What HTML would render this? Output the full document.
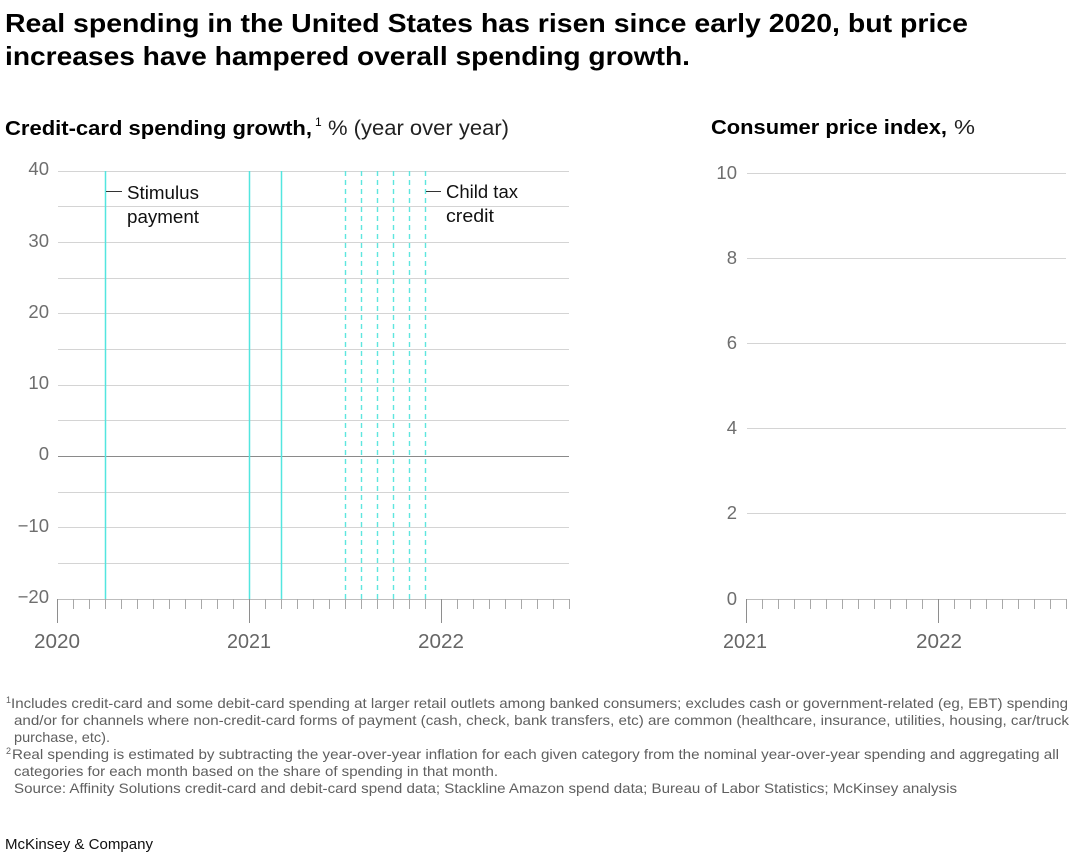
<!DOCTYPE html>
<html>
<head>
<meta charset="utf-8">
<style>
  html, body { margin: 0; padding: 0; background: #fff; }
  svg { display: block; }
  text { font-family: "Liberation Sans", Arial, sans-serif; }
</style>
</head>
<body>
<svg width="1080" height="862" viewBox="0 0 1080 862" xmlns="http://www.w3.org/2000/svg">
  <rect width="1080" height="862" fill="#fff"/>

  <!-- Title -->
  <text x="5" y="32" font-size="26" font-weight="bold" fill="#000" textLength="963" lengthAdjust="spacingAndGlyphs">Real spending in the United States has risen since early 2020, but price</text>
  <text x="5" y="65" font-size="26" font-weight="bold" fill="#000" textLength="685" lengthAdjust="spacingAndGlyphs">increases have hampered overall spending growth.</text>

  <!-- Subtitles -->
  <text x="5" y="135" font-size="20" font-weight="bold" fill="#000" textLength="307" lengthAdjust="spacingAndGlyphs">Credit-card spending growth,</text>
  <text x="315" y="126" font-size="12" fill="#000">1</text>
  <text x="328" y="135" font-size="21" fill="#222" textLength="181" lengthAdjust="spacingAndGlyphs">% (year over year)</text>

  <text x="711" y="134" font-size="20" font-weight="bold" fill="#000" textLength="236" lengthAdjust="spacingAndGlyphs">Consumer price index,</text>
  <text x="954" y="134" font-size="20" fill="#222" textLength="21" lengthAdjust="spacingAndGlyphs">%</text>

  <!-- LEFT CHART -->
  <g stroke="#d4d4d4" stroke-width="1" fill="none">
    <path d="M58 171.5H569 M58 206.5H569 M58 242.5H569 M58 278.5H569 M58 313.5H569 M58 349.5H569 M58 385.5H569 M58 420.5H569 M58 492.5H569 M58 527.5H569 M58 563.5H569"/>
  </g>
  <path d="M58 456.5H569" stroke="#8a8a8a" stroke-width="1"/>

  <!-- cyan event lines -->
  <g stroke="#52e6df" stroke-width="1.5" fill="none">
    <path d="M105.5 171V599 M249.5 171V599 M281.5 171V599"/>
  </g>
  <g stroke="#5ee6df" stroke-width="1.4" fill="none" stroke-dasharray="5,4">
    <path d="M345.5 171V599 M361.5 171V599 M377.5 171V599 M393.5 171V599 M409.5 171V599 M425.5 171V599"/>
  </g>

  <!-- annotations -->
  <path d="M106 191.5H122 M426 191.5H441" stroke="#333" stroke-width="1"/>
  <text x="127" y="199" font-size="18.5" fill="#111" textLength="72" lengthAdjust="spacingAndGlyphs">Stimulus</text>
  <text x="127" y="223" font-size="18.5" fill="#111" textLength="72" lengthAdjust="spacingAndGlyphs">payment</text>
  <text x="446" y="198" font-size="18.5" fill="#111" textLength="72" lengthAdjust="spacingAndGlyphs">Child tax</text>
  <text x="446" y="222" font-size="18.5" fill="#111" textLength="48" lengthAdjust="spacingAndGlyphs">credit</text>

  <!-- left axis -->
  <path d="M57 599.5H570" stroke="#bdbdbd" stroke-width="1"/>
  <path d="M73.5 599V609 M89.5 599V609 M105.5 599V609 M121.5 599V609 M137.5 599V609 M153.5 599V609 M169.5 599V609 M185.5 599V609 M201.5 599V609 M217.5 599V609 M233.5 599V609 M265.5 599V609 M281.5 599V609 M297.5 599V609 M313.5 599V609 M329.5 599V609 M345.5 599V609 M361.5 599V609 M377.5 599V609 M393.5 599V609 M409.5 599V609 M425.5 599V609 M457.5 599V609 M473.5 599V609 M489.5 599V609 M505.5 599V609 M521.5 599V609 M537.5 599V609 M553.5 599V609 M569.5 599V609" stroke="#a8a8a8" stroke-width="1"/>
  <path d="M57.5 599V623 M249.5 599V623 M441.5 599V623" stroke="#8e8e8e" stroke-width="1"/>

  <!-- left y labels -->
  <g font-size="18.5" fill="#6e6e6e" text-anchor="end">
    <text x="49" y="175">40</text>
    <text x="49" y="247">30</text>
    <text x="49" y="318">20</text>
    <text x="49" y="389">10</text>
    <text x="49" y="460">0</text>
    <text x="49" y="532">−10</text>
    <text x="49" y="603">−20</text>
  </g>
  <!-- left x labels -->
  <g font-size="20" fill="#666" text-anchor="middle">
    <text x="57" y="648" textLength="46" lengthAdjust="spacingAndGlyphs">2020</text>
    <text x="249" y="648" textLength="44" lengthAdjust="spacingAndGlyphs">2021</text>
    <text x="441" y="648" textLength="46" lengthAdjust="spacingAndGlyphs">2022</text>
  </g>

  <!-- RIGHT CHART -->
  <g stroke="#d4d4d4" stroke-width="1" fill="none">
    <path d="M747 173.5H1066 M747 258.5H1066 M747 343.5H1066 M747 428.5H1066 M747 513.5H1066"/>
  </g>
  <path d="M746 599.5H1067" stroke="#bdbdbd" stroke-width="1"/>
  <path d="M762.5 599V609 M778.5 599V609 M794.5 599V609 M810.5 599V609 M826.5 599V609 M842.5 599V609 M858.5 599V609 M874.5 599V609 M890.5 599V609 M906.5 599V609 M922.5 599V609 M954.5 599V609 M970.5 599V609 M986.5 599V609 M1002.5 599V609 M1018.5 599V609 M1034.5 599V609 M1050.5 599V609 M1066.5 599V609" stroke="#a8a8a8" stroke-width="1"/>
  <path d="M746.5 599V623 M938.5 599V623" stroke="#8e8e8e" stroke-width="1"/>

  <g font-size="18.5" fill="#6e6e6e" text-anchor="end">
    <text x="737" y="179">10</text>
    <text x="737" y="264">8</text>
    <text x="737" y="349">6</text>
    <text x="737" y="434">4</text>
    <text x="737" y="519">2</text>
    <text x="737" y="605">0</text>
  </g>
  <g font-size="20" fill="#666" text-anchor="middle">
    <text x="745" y="648" textLength="44" lengthAdjust="spacingAndGlyphs">2021</text>
    <text x="939" y="648" textLength="46" lengthAdjust="spacingAndGlyphs">2022</text>
  </g>

  <!-- Footnotes -->
  <g font-size="14" fill="#5f5f5f">
    <text x="6" y="703" font-size="9">1</text>
    <text x="11" y="708" textLength="1057" lengthAdjust="spacingAndGlyphs">Includes credit-card and some debit-card spending at larger retail outlets among banked consumers; excludes cash or government-related (eg, EBT) spending</text>
    <text x="14" y="725" textLength="1055" lengthAdjust="spacingAndGlyphs">and/or for channels where non-credit-card forms of payment (cash, check, bank transfers, etc) are common (healthcare, insurance, utilities, housing, car/truck</text>
    <text x="14" y="742" textLength="96" lengthAdjust="spacingAndGlyphs">purchase, etc).</text>
    <text x="6" y="754" font-size="9">2</text>
    <text x="12" y="759" textLength="1047" lengthAdjust="spacingAndGlyphs">Real spending is estimated by subtracting the year-over-year inflation for each given category from the nominal year-over-year spending and aggregating all</text>
    <text x="14" y="776" textLength="484" lengthAdjust="spacingAndGlyphs">categories for each month based on the share of spending in that month.</text>
    <text x="14" y="793" textLength="943" lengthAdjust="spacingAndGlyphs">Source: Affinity Solutions credit-card and debit-card spend data; Stackline Amazon spend data; Bureau of Labor Statistics; McKinsey analysis</text>
  </g>

  <text x="5" y="849" font-size="14.5" fill="#111" textLength="148" lengthAdjust="spacingAndGlyphs">McKinsey &amp; Company</text>
</svg>
</body>
</html>
